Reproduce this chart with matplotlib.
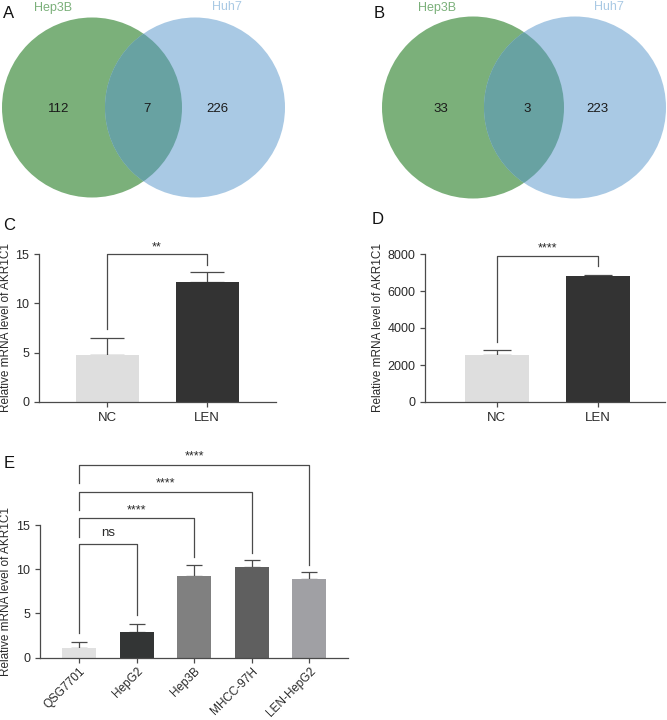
import matplotlib
matplotlib.use("Agg")
import matplotlib.pyplot as plt
from matplotlib.patches import Circle

plt.rcParams['font.family'] = ['Liberation Sans', 'DejaVu Sans']

W, H = 667, 720

# ---------------- data ----------------
venn_sets = ["Hep3B", "Huh7"]
venn_A = [112, 7, 226]
venn_B = [33, 3, 223]

cd_cats = ["NC", "LEN"]
c_vals = [4.75, 12.2]
c_err = [1.72, 0.95]
d_vals = [2520, 6830]
d_err = [270, 30]

e_cats = ["QSG7701", "HepG2", "Hep3B", "MHCC-97H", "LEN-HepG2"]
e_vals = [1.06, 2.94, 9.24, 10.22, 8.93]
e_err = [0.75, 0.90, 1.24, 0.82, 0.72]

c_sig = "**"
d_sig = "****"
e_sig = ["ns", "****", "****", "****"]
e_sig_targets = [1, 2, 3, 4]

GREEN = "#7bb07a"
BLUE = "#a9c9e4"
MIX = "#68a2a2"
AX = "#4a4a4a"
TXT = "#2a2a2a"


def add_ax(x0, y0, x1, y1):
    return fig.add_axes([x0 / W, 1 - y1 / H, (x1 - x0) / W, (y1 - y0) / H])


fig = plt.figure(figsize=(W / 100, H / 100), dpi=100)

# ---------------- Venn diagrams ----------------
vax = add_ax(0, 0, W, 215)
vax.set_xlim(0, W)
vax.set_ylim(215, 0)
vax.axis("off")


def venn(cx1, cx2, cy, r, counts, lx):
    c1 = Circle((cx1, cy), r, color=GREEN, lw=0, zorder=1)
    c2 = Circle((cx2, cy), r, color=BLUE, lw=0, zorder=2)
    vax.add_patch(c1)
    vax.add_patch(c2)
    c3 = Circle((cx1, cy), r, color=MIX, lw=0, zorder=3)
    vax.add_patch(c3)
    c3.set_clip_path(c2)
    for x, n in zip(lx, counts):
        vax.text(x, cy + 1, str(n), ha="center", va="center", fontsize=9.5,
                 color="#1a1a1a", zorder=5)


venn(92, 195, 107.5, 90, venn_A, [59, 147, 217])
venn(473, 575, 107.5, 91, venn_B, [441, 527, 597])
vax.text(53, 7.5, venn_sets[0], ha="center", va="center", fontsize=9, color=GREEN)
vax.text(227, 7.5, venn_sets[1], ha="center", va="center", fontsize=9, color=BLUE)
vax.text(437, 7.5, venn_sets[0], ha="center", va="center", fontsize=9, color=GREEN)
vax.text(609, 7.5, venn_sets[1], ha="center", va="center", fontsize=9, color=BLUE)

for lbl, x, y in [("A", 9, 13), ("B", 379, 13), ("C", 9, 225), ("D", 378, 220), ("E", 9, 463)]:
    fig.text(x / W, 1 - y / H, lbl, ha="center", va="center", fontsize=12, color="#111")


def style(ax, xsize=9.5):
    for s in ["top", "right"]:
        ax.spines[s].set_visible(False)
    for s in ["left", "bottom"]:
        ax.spines[s].set_color(AX)
        ax.spines[s].set_linewidth(0.9)
    ax.tick_params(colors=AX, labelcolor=TXT, labelsize=9, width=0.9, length=3.5)
    ax.tick_params(axis="x", labelsize=xsize)


def bracket(ax, x1, x2, y, yl, yr, text, ty, fs=9):
    ax.plot([x1, x1, x2, x2], [yl, y, y, yr], color=AX, lw=0.9, clip_on=False)
    ax.text((x1 + x2) / 2, ty, text, ha="center", va="bottom", fontsize=fs, color=TXT,
            clip_on=False)


# ---------------- Panel C ----------------
axc = add_ax(39, 254, 276, 402)
xc = list(range(len(cd_cats)))
axc.errorbar(xc, c_vals, yerr=[[0] * 2, c_err], fmt="none", ecolor=AX, elinewidth=0.9,
             capsize=12, capthick=0.9, zorder=1)
axc.bar(xc, c_vals, width=0.63, color=["#dedede", "#333333"], zorder=2)
axc.set_xlim(-0.68, 1.69)
axc.set_ylim(0, 15)
axc.set_yticks([0, 5, 10, 15])
axc.set_xticks(xc)
axc.set_xticklabels(cd_cats)
style(axc)
axc.set_ylabel("Relative mRNA level of AKR1C1", fontsize=8.5, color=TXT)
axc.yaxis.set_label_coords((12 - 39) / 237, 0.5)
bracket(axc, 0, 1, 15.0, 7.4, 13.9, c_sig, 15.1)

# ---------------- Panel D ----------------
axd = add_ax(425, 254, 665, 402)
axd.errorbar(xc, d_vals, yerr=[[0] * 2, d_err], fmt="none", ecolor=AX, elinewidth=0.9,
             capsize=10, capthick=0.9, zorder=1)
axd.bar(xc, d_vals, width=0.63, color=["#dedede", "#333333"], zorder=2)
axd.set_xlim(-0.71, 1.66)
axd.set_ylim(0, 8000)
axd.set_yticks([0, 2000, 4000, 6000, 8000])
axd.set_xticks(xc)
axd.set_xticklabels(cd_cats)
style(axd)
axd.set_ylabel("Relative mRNA level of AKR1C1", fontsize=8.5, color=TXT)
axd.yaxis.set_label_coords((384 - 425) / 240, 0.5)
bracket(axd, 0, 1, 7890, 3260, 7350, d_sig, 7950)

# ---------------- Panel E ----------------
axe = add_ax(40, 525, 348, 657.7)
xe = list(range(len(e_cats)))
axe.errorbar(xe, e_vals, yerr=[[0] * 5, e_err], fmt="none", ecolor=AX, elinewidth=0.9,
             capsize=6, capthick=0.9, zorder=1)
axe.bar(xe, e_vals, width=0.59,
        color=["#e0e0e0", "#333535", "#808080", "#5f5f5f", "#a0a0a4"], zorder=2)
axe.set_xlim(-0.68, 4.67)
axe.set_ylim(0, 15)
axe.set_yticks([0, 5, 10, 15])
axe.set_xticks(xe)
axe.set_xticklabels(e_cats, rotation=45, ha="right", va="top", rotation_mode="anchor")
style(axe, xsize=8.5)
axe.tick_params(axis="x", pad=2)
axe.set_ylabel("Relative mRNA level of AKR1C1", fontsize=8.5, color=TXT)
axe.yaxis.set_label_coords((12 - 40) / 308, 0.5)

e_y = [12.82, 15.75, 18.77, 21.78]
e_yl = [2.8, 13.7, 16.7, 19.75]
e_yr = [4.8, 11.4, 11.8, 10.5]
for t, y, yl, yr, s in zip(e_sig_targets, e_y, e_yl, e_yr, e_sig):
    if s == "ns":
        bracket(axe, 0, t, y, yl, yr, s, y + 0.55, fs=9.5)
    else:
        bracket(axe, 0, t, y, yl, yr, s, y + 0.25)

fig.savefig("out.png", dpi=100)
